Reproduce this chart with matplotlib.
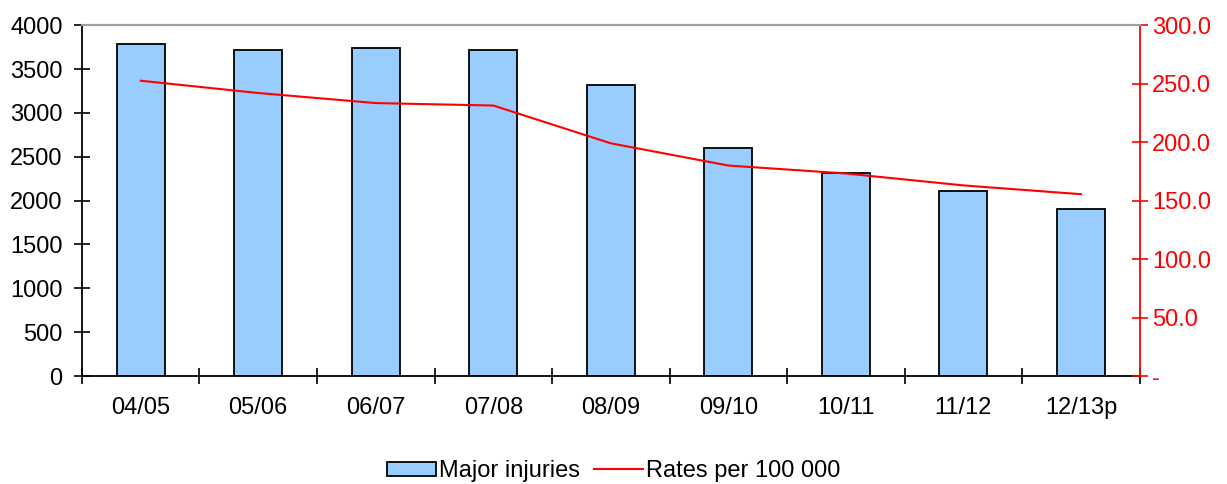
import matplotlib.pyplot as plt
import numpy as np

plt.rcParams['font.family'] = ['Liberation Sans', 'DejaVu Sans']

years = ['04/05', '05/06', '06/07', '07/08', '08/09', '09/10', '10/11', '11/12', '12/13p']
major_injuries = [3790, 3722, 3741, 3722, 3317, 2603, 2310, 2111, 1901]
rates = [252.5, 242.0, 233.4, 231.3, 199.0, 180.0, 173.2, 163.0, 155.5]

fig = plt.figure(figsize=(12.27, 4.84), dpi=100)
ax = fig.add_axes([0.0668, 0.223, 0.862, 0.725])
ax2 = ax.twinx()

x = np.arange(len(years))
bars = ax.bar(x, major_injuries, width=0.41, color='#99CCFF', edgecolor='black',
              linewidth=1.3, label='Major injuries', zorder=2)
line, = ax2.plot(x, rates, color='red', linewidth=1.5, label='Rates per 100 000')

ax.set_xlim(-0.5, len(years) - 0.5)
ax.set_ylim(0, 4000)
ax.set_yticks(range(0, 4001, 500))
ax2.set_ylim(0, 300)
ax2.set_yticks(range(0, 301, 50))
ax2.set_yticklabels(['-'] + ['%.1f' % v for v in range(50, 301, 50)])

# category labels in the middle, tick marks on the boundaries
ax.set_xticks(x)
ax.set_xticklabels(years)
ax.set_xticks(np.arange(-0.5, len(years)), minor=True)
ax.tick_params(axis='x', which='major', length=0, pad=15, labelsize=17)
ax.tick_params(axis='x', which='minor', direction='inout', length=12, width=1.2)
ax.tick_params(axis='y', direction='inout', length=12, width=1.2, labelsize=17, pad=8)
ax2.tick_params(axis='y', direction='inout', length=12, width=1.2, colors='red',
                labelsize=17, pad=3)

for a in (ax, ax2):
    a.spines['top'].set_color('#A0A0A0')
    a.spines['top'].set_linewidth(1.5)
ax.spines['left'].set_linewidth(1.3)
ax.spines['bottom'].set_linewidth(1.3)
ax.spines['right'].set_visible(False)
ax2.spines['left'].set_visible(False)
ax2.spines['bottom'].set_visible(False)
ax2.spines['right'].set_color('red')
ax2.spines['right'].set_linewidth(1.3)

fig.legend([bars, line], ['Major injuries', 'Rates per 100 000'], loc='lower center',
           bbox_to_anchor=(0.5, -0.04), ncol=2, frameon=False, fontsize=17,
           handlelength=2.1, handleheight=0.55, handletextpad=0.1, columnspacing=0.6)

fig.savefig('out.png', dpi=100)
